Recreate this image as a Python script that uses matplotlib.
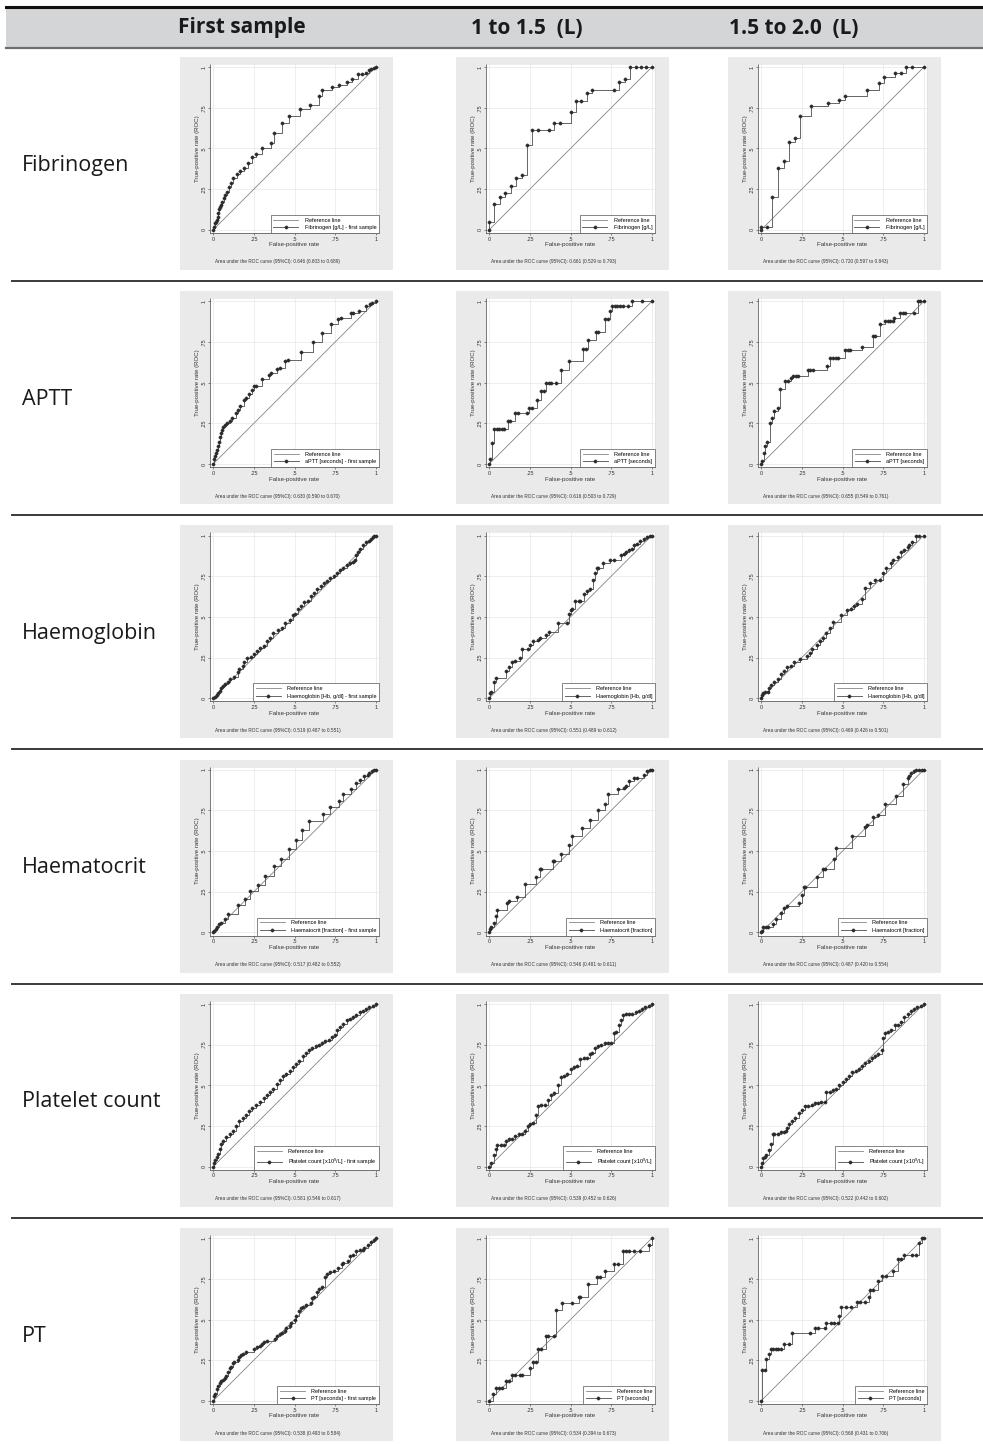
import matplotlib.pyplot as plt
from matplotlib.lines import Line2D
from matplotlib.patches import Rectangle

# ---- data ----
col_titles = ['First sample', '1 to 1.5  (L)', '1.5 to 2.0  (L)']
row_names = ['Fibrinogen', 'APTT', 'Haemoglobin', 'Haematocrit', 'Platelet count', 'PT']
series_names = ['Fibrinogen [g/L]', 'aPTT [seconds]', 'Haemoglobin [Hb, g/dl]',
                'Haematocrit [fraction]', 'Platelet count [x10$^9$/L]', 'PT [seconds]']

auc = [[0.646, 0.661, 0.720], [0.630, 0.616, 0.655], [0.519, 0.551, 0.469],
       [0.517, 0.546, 0.487], [0.581, 0.539, 0.522], [0.538, 0.534, 0.568]]
auc_lo = [[0.603, 0.529, 0.597], [0.590, 0.503, 0.549], [0.487, 0.489, 0.426],
          [0.482, 0.481, 0.420], [0.546, 0.452, 0.442], [0.493, 0.394, 0.431]]
auc_hi = [[0.689, 0.793, 0.843], [0.670, 0.729, 0.761], [0.551, 0.612, 0.501],
          [0.552, 0.611, 0.554], [0.617, 0.626, 0.602], [0.584, 0.673, 0.706]]

# fibrinogen
fib_first_x = [0, 0.004, 0.008, 0.014, 0.02, 0.027, 0.03, 0.035, 0.041, 0.047, 0.056, 0.064, 0.072, 0.082, 0.097,
               0.109, 0.123, 0.148, 0.167, 0.189, 0.216, 0.239, 0.265, 0.302, 0.354, 0.372, 0.426, 0.467, 0.533,
               0.595, 0.648, 0.671, 0.73, 0.772, 0.821, 0.854, 0.891, 0.916, 0.94, 0.957, 0.973, 0.99, 1]
fib_first_y = [0, 0.02, 0.04, 0.05, 0.06, 0.08, 0.10, 0.127, 0.143, 0.152, 0.172, 0.193, 0.213, 0.234, 0.262,
               0.287, 0.318, 0.344, 0.361, 0.383, 0.412, 0.447, 0.469, 0.504, 0.535, 0.594, 0.654, 0.701, 0.74,
               0.768, 0.824, 0.857, 0.881, 0.893, 0.91, 0.93, 0.957, 0.957, 0.967, 0.98, 0.988, 0.996, 1]
fib_15_x = [0, 0, 0.031, 0.064, 0.099, 0.132, 0.167, 0.2, 0.233, 0.266, 0.299, 0.367, 0.4, 0.433, 0.501, 0.534,
            0.567, 0.6, 0.635, 0.767, 0.8, 0.833, 0.866, 0.9, 0.934, 0.967, 1]
fib_15_y = [0, 0.045, 0.158, 0.203, 0.226, 0.271, 0.316, 0.339, 0.52, 0.612, 0.612, 0.612, 0.657, 0.657, 0.727,
            0.795, 0.795, 0.84, 0.86, 0.86, 0.908, 0.93, 1, 1, 1, 1, 1]
fib_20_x = [0, 0, 0.035, 0.066, 0.103, 0.138, 0.172, 0.207, 0.238, 0.308, 0.413, 0.48, 0.513, 0.653, 0.723,
            0.756, 0.825, 0.858, 0.893, 0.928, 1]
fib_20_y = [0, 0.02, 0.02, 0.2, 0.383, 0.42, 0.542, 0.563, 0.702, 0.762, 0.783, 0.801, 0.822, 0.861, 0.903,
            0.942, 0.963, 0.963, 1, 1, 1]

# aPTT
aptt_first_x = [0, 0.003, 0.009, 0.015, 0.021, 0.027, 0.033, 0.04, 0.046, 0.055, 0.061, 0.07, 0.085, 0.1, 0.116,
                0.137, 0.152, 0.167, 0.188, 0.2, 0.219, 0.237, 0.249, 0.264, 0.3, 0.34, 0.353, 0.395, 0.41, 0.44,
                0.462, 0.538, 0.614, 0.669, 0.723, 0.766, 0.787, 0.845, 0.863, 0.894, 0.942, 0.964, 0.979, 1]
aptt_first_y = [0, 0.03, 0.05, 0.067, 0.087, 0.108, 0.132, 0.163, 0.193, 0.209, 0.23, 0.242, 0.254, 0.266, 0.283,
                0.315, 0.331, 0.356, 0.396, 0.404, 0.433, 0.457, 0.478, 0.482, 0.522, 0.549, 0.559, 0.585, 0.589,
                0.634, 0.64, 0.687, 0.752, 0.807, 0.864, 0.894, 0.9, 0.929, 0.931, 0.941, 0.97, 0.982, 0.992, 1]
aptt_15_x = [0, 0.006, 0.016, 0.031, 0.047, 0.062, 0.078, 0.093, 0.115, 0.13, 0.158, 0.174, 0.233, 0.245, 0.261,
             0.292, 0.32, 0.335, 0.351, 0.366, 0.382, 0.413, 0.441, 0.488, 0.578, 0.593, 0.606, 0.655, 0.671, 0.714,
             0.73, 0.742, 0.758, 0.774, 0.789, 0.805, 0.82, 0.851, 0.879, 0.941, 1]
aptt_15_y = [0, 0.029, 0.131, 0.213, 0.213, 0.213, 0.213, 0.213, 0.263, 0.263, 0.315, 0.315, 0.315, 0.344, 0.344,
             0.396, 0.446, 0.446, 0.498, 0.498, 0.498, 0.498, 0.577, 0.631, 0.708, 0.708, 0.763, 0.813, 0.813,
             0.892, 0.892, 0.942, 0.969, 0.969, 0.969, 0.969, 0.969, 0.969, 1, 1, 1]
aptt_20_x = [0, 0.006, 0.015, 0.025, 0.037, 0.052, 0.064, 0.08, 0.104, 0.113, 0.144, 0.166, 0.18, 0.196, 0.211,
             0.227, 0.288, 0.303, 0.319, 0.405, 0.426, 0.442, 0.457, 0.472, 0.518, 0.534, 0.549, 0.617, 0.687,
             0.702, 0.733, 0.764, 0.779, 0.794, 0.81, 0.819, 0.856, 0.871, 0.886, 0.939, 0.963, 0.979, 1]
aptt_20_y = [0, 0.021, 0.068, 0.112, 0.137, 0.253, 0.28, 0.326, 0.346, 0.46, 0.51, 0.51, 0.53, 0.54, 0.54, 0.54,
             0.58, 0.58, 0.58, 0.6, 0.65, 0.65, 0.65, 0.65, 0.7, 0.7, 0.7, 0.72, 0.79, 0.79, 0.86, 0.88, 0.88,
             0.88, 0.88, 0.9, 0.93, 0.93, 0.93, 0.93, 1, 1, 1]

# haemoglobin
hb_first_x = [0, 0.01, 0.02, 0.03, 0.04, 0.05, 0.06, 0.07, 0.09, 0.1, 0.13, 0.15, 0.16, 0.18, 0.19, 0.21, 0.23,
              0.25, 0.27, 0.29, 0.31, 0.33, 0.35, 0.37, 0.4, 0.42, 0.44, 0.47, 0.49, 0.5, 0.52, 0.54, 0.56, 0.58,
              0.6, 0.62, 0.64, 0.66, 0.68, 0.7, 0.72, 0.74, 0.76, 0.78, 0.8, 0.82, 0.84, 0.86, 0.87, 0.88, 0.89,
              0.9, 0.92, 0.94, 0.96, 0.97, 0.98, 0.99, 1]
hb_first_y = [0, 0.01, 0.02, 0.03, 0.045, 0.06, 0.075, 0.09, 0.1, 0.12, 0.13, 0.16, 0.18, 0.2, 0.22, 0.245, 0.255,
              0.27, 0.29, 0.31, 0.32, 0.35, 0.37, 0.4, 0.42, 0.43, 0.46, 0.48, 0.51, 0.52, 0.55, 0.57, 0.59, 0.6,
              0.63, 0.65, 0.67, 0.69, 0.71, 0.72, 0.74, 0.75, 0.77, 0.79, 0.8, 0.82, 0.83, 0.84, 0.85, 0.88, 0.9,
              0.92, 0.94, 0.96, 0.97, 0.98, 0.99, 1, 1]
hb_15_x = [0, 0.003, 0.01, 0.03, 0.04, 0.1, 0.12, 0.14, 0.16, 0.19, 0.2, 0.24, 0.25, 0.27, 0.3, 0.31, 0.35, 0.37,
           0.42, 0.48, 0.49, 0.5, 0.51, 0.53, 0.55, 0.56, 0.58, 0.6, 0.62, 0.64, 0.65, 0.66, 0.67, 0.7, 0.74, 0.77,
           0.81, 0.83, 0.84, 0.86, 0.88, 0.89, 0.91, 0.93, 0.95, 0.97, 0.99, 1]
hb_15_y = [0, 0.03, 0.04, 0.1, 0.125, 0.17, 0.19, 0.22, 0.23, 0.25, 0.3, 0.3, 0.33, 0.35, 0.36, 0.37, 0.39, 0.41,
           0.46, 0.46, 0.52, 0.54, 0.55, 0.6, 0.6, 0.6, 0.64, 0.66, 0.67, 0.73, 0.77, 0.8, 0.8, 0.83, 0.85, 0.85,
           0.88, 0.89, 0.9, 0.91, 0.92, 0.94, 0.95, 0.97, 0.98, 0.99, 1, 1]
hb_20_x = [0, 0.005, 0.01, 0.02, 0.04, 0.05, 0.06, 0.08, 0.1, 0.12, 0.14, 0.16, 0.18, 0.2, 0.24, 0.28, 0.3, 0.31,
           0.34, 0.36, 0.38, 0.4, 0.42, 0.44, 0.49, 0.53, 0.55, 0.57, 0.59, 0.62, 0.64, 0.67, 0.7, 0.73, 0.75, 0.77,
           0.8, 0.81, 0.84, 0.86, 0.88, 0.9, 0.91, 0.93, 0.95, 0.97, 1]
hb_20_y = [0, 0.02, 0.03, 0.04, 0.04, 0.06, 0.08, 0.1, 0.12, 0.15, 0.17, 0.19, 0.2, 0.22, 0.24, 0.26, 0.28, 0.3,
           0.33, 0.35, 0.37, 0.4, 0.43, 0.47, 0.51, 0.54, 0.55, 0.57, 0.58, 0.61, 0.68, 0.71, 0.73, 0.73, 0.77, 0.8,
           0.83, 0.85, 0.87, 0.9, 0.91, 0.93, 0.94, 0.96, 1, 1, 1]

# haematocrit
hct_first_x = [0, 0.005, 0.015, 0.025, 0.035, 0.05, 0.07, 0.09, 0.15, 0.197, 0.224, 0.273, 0.318, 0.373, 0.418,
               0.467, 0.512, 0.545, 0.59, 0.673, 0.718, 0.773, 0.8, 0.848, 0.876, 0.9, 0.93, 0.95, 0.96, 0.975,
               0.99, 1]
hct_first_y = [0, 0.01, 0.02, 0.03, 0.05, 0.06, 0.08, 0.11, 0.166, 0.205, 0.252, 0.289, 0.348, 0.406, 0.45, 0.514,
               0.57, 0.63, 0.685, 0.73, 0.77, 0.81, 0.85, 0.88, 0.92, 0.94, 0.96, 0.97, 0.98, 0.99, 1, 1]
hct_15_x = [0, 0.003, 0.01, 0.03, 0.04, 0.05, 0.11, 0.12, 0.17, 0.22, 0.29, 0.31, 0.32, 0.39, 0.4, 0.44, 0.49,
            0.51, 0.57, 0.62, 0.67, 0.71, 0.73, 0.79, 0.83, 0.84, 0.86, 0.89, 0.91, 0.95, 0.97, 0.99, 1]
hct_15_y = [0, 0.02, 0.035, 0.06, 0.1, 0.14, 0.18, 0.19, 0.22, 0.3, 0.34, 0.39, 0.39, 0.44, 0.44, 0.48, 0.54,
            0.59, 0.64, 0.69, 0.75, 0.79, 0.85, 0.88, 0.89, 0.9, 0.93, 0.95, 0.95, 0.97, 0.99, 1, 1]
hct_20_x = [0, 0.003, 0.01, 0.03, 0.04, 0.07, 0.09, 0.12, 0.14, 0.16, 0.23, 0.25, 0.26, 0.27, 0.34, 0.38, 0.39,
            0.45, 0.46, 0.56, 0.64, 0.65, 0.69, 0.72, 0.76, 0.83, 0.87, 0.9, 0.91, 0.92, 0.94, 0.95, 0.97, 0.99, 1]
hct_20_y = [0, 0.01, 0.03, 0.035, 0.035, 0.05, 0.08, 0.12, 0.15, 0.16, 0.18, 0.23, 0.28, 0.28, 0.34, 0.39, 0.39,
            0.45, 0.52, 0.59, 0.65, 0.66, 0.71, 0.72, 0.79, 0.84, 0.91, 0.95, 0.96, 0.98, 0.99, 1, 1, 1, 1]

# platelet count
plt_first_x = [0, 0.005, 0.01, 0.02, 0.03, 0.04, 0.05, 0.06, 0.08, 0.1, 0.12, 0.14, 0.16, 0.18, 0.2, 0.22, 0.24,
               0.26, 0.29, 0.31, 0.33, 0.35, 0.37, 0.39, 0.41, 0.43, 0.45, 0.47, 0.49, 0.51, 0.53, 0.55, 0.57,
               0.59, 0.61, 0.63, 0.65, 0.67, 0.69, 0.71, 0.73, 0.75, 0.76, 0.78, 0.8, 0.82, 0.84, 0.86, 0.88, 0.9,
               0.92, 0.94, 0.96, 0.98, 1]
plt_first_y = [0, 0.02, 0.04, 0.06, 0.08, 0.11, 0.14, 0.16, 0.18, 0.2, 0.22, 0.25, 0.28, 0.3, 0.32, 0.34, 0.36,
               0.38, 0.4, 0.42, 0.44, 0.46, 0.48, 0.51, 0.53, 0.56, 0.57, 0.59, 0.61, 0.63, 0.65, 0.68, 0.7, 0.72,
               0.73, 0.74, 0.75, 0.76, 0.77, 0.78, 0.8, 0.81, 0.84, 0.86, 0.88, 0.9, 0.91, 0.92, 0.93, 0.95, 0.96,
               0.97, 0.98, 0.99, 1]
plt_15_x = [0, 0.01, 0.03, 0.04, 0.05, 0.07, 0.09, 0.1, 0.12, 0.14, 0.16, 0.18, 0.2, 0.22, 0.24, 0.25, 0.27, 0.29,
            0.3, 0.32, 0.34, 0.36, 0.38, 0.4, 0.42, 0.44, 0.46, 0.48, 0.5, 0.52, 0.54, 0.56, 0.58, 0.6, 0.62, 0.63,
            0.65, 0.67, 0.69, 0.71, 0.73, 0.75, 0.77, 0.78, 0.8, 0.81, 0.82, 0.84, 0.86, 0.88, 0.9, 0.92, 0.94,
            0.96, 0.98, 1]
plt_15_y = [0, 0.02, 0.07, 0.11, 0.13, 0.13, 0.13, 0.16, 0.17, 0.17, 0.19, 0.2, 0.2, 0.22, 0.25, 0.26, 0.27, 0.32,
            0.37, 0.38, 0.38, 0.41, 0.44, 0.45, 0.5, 0.55, 0.56, 0.57, 0.6, 0.61, 0.62, 0.66, 0.67, 0.67, 0.69,
            0.7, 0.73, 0.74, 0.75, 0.76, 0.76, 0.76, 0.82, 0.83, 0.87, 0.9, 0.93, 0.94, 0.94, 0.94, 0.95, 0.96,
            0.97, 0.98, 0.99, 1]
plt_20_x = [0, 0.005, 0.01, 0.02, 0.03, 0.05, 0.06, 0.07, 0.08, 0.1, 0.12, 0.14, 0.15, 0.16, 0.17, 0.19, 0.21,
            0.23, 0.25, 0.27, 0.29, 0.31, 0.33, 0.35, 0.37, 0.39, 0.4, 0.42, 0.44, 0.46, 0.48, 0.5, 0.52, 0.54,
            0.56, 0.58, 0.6, 0.62, 0.64, 0.66, 0.68, 0.7, 0.72, 0.74, 0.75, 0.76, 0.78, 0.8, 0.82, 0.84, 0.86,
            0.88, 0.9, 0.92, 0.94, 0.96, 0.98, 1]
plt_20_y = [0, 0.02, 0.05, 0.06, 0.07, 0.1, 0.14, 0.2, 0.2, 0.2, 0.21, 0.21, 0.22, 0.24, 0.26, 0.28, 0.3, 0.33,
            0.35, 0.37, 0.37, 0.38, 0.39, 0.39, 0.4, 0.4, 0.46, 0.46, 0.47, 0.48, 0.5, 0.52, 0.54, 0.56, 0.58,
            0.59, 0.6, 0.62, 0.64, 0.65, 0.67, 0.68, 0.69, 0.72, 0.79, 0.82, 0.83, 0.84, 0.87, 0.87, 0.89, 0.92,
            0.94, 0.96, 0.97, 0.98, 0.99, 1]

# PT
pt_first_x = [0, 0.005, 0.01, 0.02, 0.03, 0.04, 0.05, 0.06, 0.07, 0.08, 0.09, 0.1, 0.11, 0.12, 0.13, 0.15, 0.16,
              0.17, 0.18, 0.2, 0.25, 0.27, 0.29, 0.3, 0.31, 0.33, 0.38, 0.39, 0.41, 0.42, 0.44, 0.45, 0.47, 0.48,
              0.5, 0.51, 0.53, 0.54, 0.55, 0.57, 0.6, 0.61, 0.62, 0.64, 0.65, 0.67, 0.69, 0.7, 0.72, 0.74, 0.77,
              0.79, 0.8, 0.83, 0.84, 0.86, 0.88, 0.9, 0.92, 0.93, 0.95, 0.97, 0.99, 1]
pt_first_y = [0, 0.03, 0.04, 0.07, 0.09, 0.11, 0.12, 0.13, 0.14, 0.15, 0.18, 0.2, 0.21, 0.23, 0.24, 0.25, 0.27,
              0.28, 0.29, 0.3, 0.32, 0.33, 0.34, 0.35, 0.36, 0.37, 0.38, 0.4, 0.41, 0.42, 0.43, 0.45, 0.46, 0.48,
              0.5, 0.52, 0.55, 0.57, 0.58, 0.59, 0.6, 0.63, 0.64, 0.67, 0.69, 0.7, 0.76, 0.78, 0.79, 0.8, 0.82,
              0.84, 0.85, 0.86, 0.89, 0.9, 0.92, 0.93, 0.93, 0.94, 0.96, 0.98, 0.99, 1]
pt_15_x = [0, 0.02, 0.04, 0.06, 0.08, 0.1, 0.12, 0.14, 0.16, 0.19, 0.2, 0.25, 0.27, 0.29, 0.3, 0.32, 0.35, 0.36,
           0.4, 0.41, 0.45, 0.51, 0.55, 0.56, 0.61, 0.66, 0.68, 0.71, 0.77, 0.79, 0.82, 0.84, 0.86, 0.89, 0.93,
           0.98, 1]
pt_15_y = [0, 0.04, 0.08, 0.08, 0.08, 0.12, 0.12, 0.16, 0.16, 0.16, 0.16, 0.2, 0.24, 0.24, 0.32, 0.32, 0.4, 0.4,
           0.4, 0.56, 0.6, 0.6, 0.64, 0.64, 0.72, 0.76, 0.76, 0.8, 0.84, 0.84, 0.92, 0.92, 0.92, 0.92, 0.92, 0.96, 1]
pt_20_x = [0, 0.003, 0.02, 0.03, 0.05, 0.06, 0.07, 0.09, 0.1, 0.12, 0.14, 0.17, 0.19, 0.3, 0.33, 0.35, 0.39, 0.4,
           0.43, 0.45, 0.47, 0.48, 0.49, 0.52, 0.55, 0.59, 0.61, 0.64, 0.66, 0.67, 0.69, 0.72, 0.74, 0.77, 0.81,
           0.84, 0.86, 0.88, 0.93, 0.95, 0.97, 0.99, 1]
pt_20_y = [0, 0.19, 0.19, 0.26, 0.29, 0.32, 0.32, 0.32, 0.32, 0.32, 0.35, 0.35, 0.42, 0.42, 0.45, 0.45, 0.45,
           0.48, 0.48, 0.48, 0.48, 0.52, 0.58, 0.58, 0.58, 0.61, 0.61, 0.61, 0.64, 0.68, 0.68, 0.74, 0.77, 0.77,
           0.8, 0.87, 0.87, 0.9, 0.9, 0.9, 0.97, 1, 1]

curves = [[(fib_first_x, fib_first_y), (fib_15_x, fib_15_y), (fib_20_x, fib_20_y)],
          [(aptt_first_x, aptt_first_y), (aptt_15_x, aptt_15_y), (aptt_20_x, aptt_20_y)],
          [(hb_first_x, hb_first_y), (hb_15_x, hb_15_y), (hb_20_x, hb_20_y)],
          [(hct_first_x, hct_first_y), (hct_15_x, hct_15_y), (hct_20_x, hct_20_y)],
          [(plt_first_x, plt_first_y), (plt_15_x, plt_15_y), (plt_20_x, plt_20_y)],
          [(pt_first_x, pt_first_y), (pt_15_x, pt_15_y), (pt_20_x, pt_20_y)]]

# ---- layout (pixels) ----
W, H = 983, 1444
fig = plt.figure(figsize=(W / 100, H / 100), dpi=100)
plt.rcParams['mathtext.default'] = 'regular'
small_font = 'Liberation Sans'
big_font = 'Open Sans'

panel_x = [180, 456, 728]
row_step = 234.2
panel_top0 = 57
box = 213


def px_axes(x, y, w, h):
    return fig.add_axes([x / W, 1 - (y + h) / H, w / W, h / H])


def fig_line(x0, x1, y, color, lw):
    fig.add_artist(Line2D([x0 / W, x1 / W], [1 - y / H, 1 - y / H], color=color, lw=lw,
                          transform=fig.transFigure))


# header band
fig.add_artist(Rectangle((6 / W, 1 - 47 / H), (W - 6) / W, 39 / H, transform=fig.transFigure,
                         facecolor='#d4d5d7', edgecolor='none'))
fig_line(6, W, 7, '#111111', 2.2)
fig_line(6, W, 47.5, '#6e6e6e', 1.6)
for cx, t in zip([242, 527, 794], col_titles):
    fig.text(cx / W, 1 - 28 / H, t, ha='center', va='center', fontsize=15, fontweight='bold',
             family=big_font, color='#1a1a1a')

# row separators
for r in range(1, 6):
    fig_line(12, W, 281 + row_step * (r - 1), '#3a3a3a', 1.4)


def draw_panel(bx, by, fx, fy, label, a, lo, hi):
    bg = px_axes(bx, by, box, box)
    bg.set_facecolor('#eaeaea')
    bg.set_xticks([])
    bg.set_yticks([])
    for s in bg.spines.values():
        s.set_visible(False)

    ax = px_axes(bx + 30, by + 7, 169, 169)
    ax.set_xlim(-0.02, 1.02)
    ax.set_ylim(-0.02, 1.02)
    ticks = [0, 0.25, 0.5, 0.75, 1]
    tlabels = ['0', '.25', '.5', '.75', '1']
    ax.set_xticks(ticks, tlabels)
    ax.set_yticks(ticks, tlabels)
    ax.grid(True, color='#e8e8e8', lw=0.5)
    ax.set_axisbelow(True)
    ax.tick_params(length=1.6, width=0.4, pad=1, labelsize=4.0, colors='#333333')
    for lab in ax.get_yticklabels():
        lab.set_rotation(90)
        lab.set_va('center')
    for k in ['left', 'bottom']:
        ax.spines[k].set_color('#444444')
        ax.spines[k].set_linewidth(0.5)
    for k in ['top', 'right']:
        ax.spines[k].set_color('#dddddd')
        ax.spines[k].set_linewidth(0.4)
    for t in ax.get_xticklabels() + ax.get_yticklabels():
        t.set_family(small_font)

    ax.plot([0, 1], [0, 1], color='#7a7a7a', lw=0.55, label='Reference line')
    ax.plot(fx, fy, drawstyle='steps-post', color='#5a5a5a', lw=0.65, marker='o', ms=2.4,
            mfc='#2b2b2b', mec='#2b2b2b', mew=0.2, label=label)
    ax.set_xlabel('False-positive rate', fontsize=4.4, family=small_font, labelpad=0.5, color='#333333')
    ax.set_ylabel('True-positive rate (ROC)', fontsize=4.4, family=small_font, labelpad=1, color='#333333')
    leg = ax.legend(loc='lower right', borderaxespad=0, prop={'family': small_font, 'size': 4.0},
                    frameon=True, fancybox=False, handlelength=4.5, handletextpad=1.1,
                    borderpad=0.5, labelspacing=0.45, framealpha=1)
    leg.get_frame().set_edgecolor('#555555')
    leg.get_frame().set_linewidth(0.5)
    fig.text((bx + 35) / W, 1 - (by + 205) / H,
             'Area under the ROC curve (95%%CI): %.3f (%.3f to %.3f)' % (a, lo, hi),
             fontsize=3.45, family=small_font, va='center', color='#333333')


for r in range(6):
    by = panel_top0 + row_step * r
    fig.text(22 / W, 1 - (165 + row_step * r) / H, row_names[r], ha='left', va='center', fontsize=15.5,
             family=big_font, color='#1a1a1a')
    for c in range(3):
        label = series_names[r] + (' - first sample' if c == 0 else '')
        fx, fy = curves[r][c]
        draw_panel(panel_x[c], by, fx, fy, label, auc[r][c], auc_lo[r][c], auc_hi[r][c])

fig.savefig('out.png', dpi=100, facecolor='white')
